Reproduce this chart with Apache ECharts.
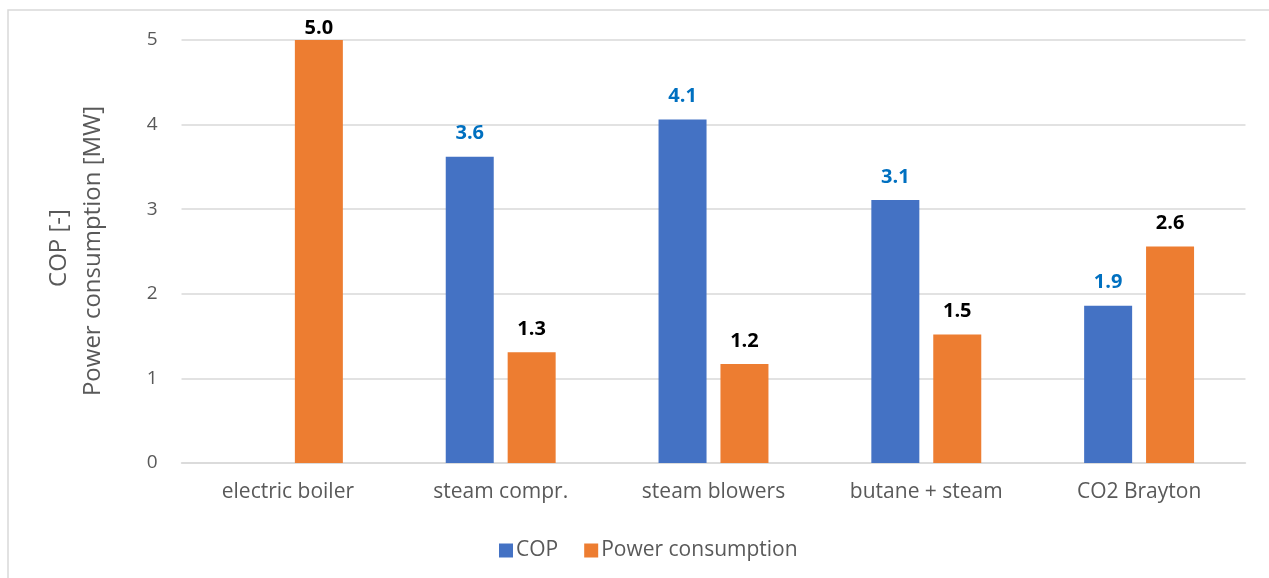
<!DOCTYPE html>
<html>
<head>
<meta charset="utf-8">
<script src="https://cdn.jsdelivr.net/npm/echarts@6/dist/echarts.min.js"></script>
<style>
  html, body { margin: 0; padding: 0; background: #ffffff; }
  #chart { width: 1269px; height: 578px; }
</style>
</head>
<body>
<div id="chart"></div>
<script>
// Heat supply options: coefficient of performance and electric power draw
const categories = ['electric boiler', 'steam compr.', 'steam blowers', 'butane + steam', 'CO2 Brayton'];
const copValues = [null, 3.62, 4.06, 3.11, 1.86];
const powerValues = [5.0, 1.31, 1.17, 1.52, 2.56];
const yTicks = [0, 1, 2, 3, 4, 5];

const FONT = '"Open Sans", "Noto Sans", sans-serif';
const TEXT = '#595959';
const GRID = '#D9D9D9';
const Y_MAX = yTicks[yTicks.length - 1];

const chart = echarts.init(document.getElementById('chart'), null, { renderer: 'canvas' });

const fmt = p => (p.value == null ? '' : Number(p.value).toFixed(1));

// A label on a bar that reaches the top of the axis sits tight against the bar
const withLabelFit = values => values.map(v =>
  v != null && v >= Y_MAX ? { value: v, label: { distance: 2 } } : v);

const barLabel = color => ({
  show: true,
  position: 'top',
  distance: 13,
  formatter: fmt,
  color: color,
  fontWeight: 'bold',
  fontSize: 20,
  fontFamily: FONT
});

chart.setOption({
  backgroundColor: '#ffffff',
  animation: false,
  textStyle: { fontFamily: FONT },
  grid: { left: 181.5, right: 23.5, top: 40, bottom: 115, containLabel: false },
  legend: {
    data: ['COP', 'Power consumption'],
    left: 494,
    top: 535,
    itemWidth: 14,
    itemHeight: 14,
    itemGap: 26,
    icon: 'rect',
    textStyle: { color: TEXT, fontSize: 21, fontFamily: FONT, padding: [0, 0, 0, -2] }
  },
  xAxis: {
    type: 'category',
    data: categories,
    axisLine: { show: true, lineStyle: { color: GRID, width: 1.5 } },
    axisTick: { show: false },
    axisLabel: { color: TEXT, fontSize: 21, fontFamily: FONT, margin: 19 }
  },
  yAxis: {
    type: 'value',
    min: yTicks[0],
    max: Y_MAX,
    interval: 1,
    axisLine: { show: false },
    axisTick: { show: false },
    axisLabel: { color: TEXT, fontSize: 19, fontFamily: FONT, margin: 24 },
    splitLine: { lineStyle: { color: GRID, width: 1.5 } }
  },
  series: [
    {
      name: 'COP',
      type: 'bar',
      data: withLabelFit(copValues),
      barWidth: 48,
      barGap: '29%',
      itemStyle: { color: '#4472C4' },
      label: barLabel('#0070C0')
    },
    {
      name: 'Power consumption',
      type: 'bar',
      data: withLabelFit(powerValues),
      barWidth: 48,
      barGap: '29%',
      itemStyle: { color: '#ED7D31' },
      label: barLabel('#000000')
    }
  ],
  graphic: [
    {
      type: 'rect',
      silent: true,
      shape: { x: 8, y: 10, width: 1400, height: 700 },
      style: { fill: 'none', stroke: GRID, lineWidth: 1.5 }
    },
    {
      type: 'text',
      x: 59,
      y: 248,
      rotation: Math.PI / 2,
      style: {
        text: 'COP [-]',
        fill: TEXT,
        font: '24px ' + FONT,
        textAlign: 'center',
        textVerticalAlign: 'middle'
      }
    },
    {
      type: 'text',
      x: 93,
      y: 251,
      rotation: Math.PI / 2,
      style: {
        text: 'Power consumption [MW]',
        fill: TEXT,
        font: '24px ' + FONT,
        textAlign: 'center',
        textVerticalAlign: 'middle'
      }
    }
  ]
});
</script>
</body>
</html>
